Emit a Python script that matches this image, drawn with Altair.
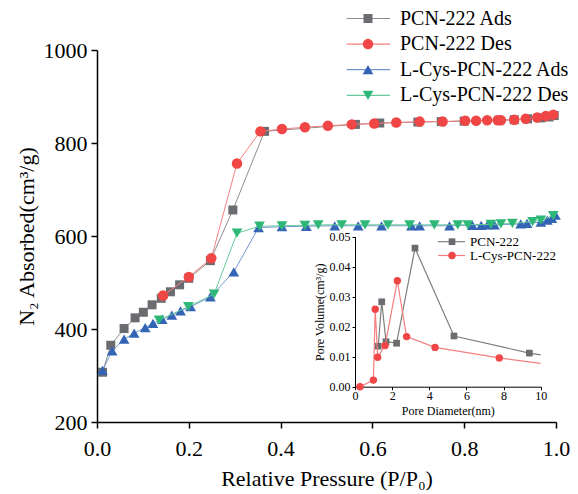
import altair as alt
import pandas as pd

# ---------------- data ----------------
pcn_ads_p = [0.012, 0.030, 0.059, 0.083, 0.101, 0.120, 0.140, 0.160, 0.180, 0.200, 0.247, 0.296,
             0.365, 0.563, 0.616, 0.699, 0.750, 0.800, 0.876, 0.909, 0.938, 0.967, 0.985, 0.996]
pcn_ads_v = [307, 365, 401, 424, 436, 452, 466, 480, 495, 509, 547, 656,
             825, 840, 843, 845, 846, 847, 849, 850, 852, 854, 856, 859]

pcn_des_p = [0.144, 0.200, 0.249, 0.305, 0.356, 0.403, 0.453, 0.503, 0.555, 0.604, 0.652, 0.703,
             0.753, 0.802, 0.826, 0.850, 0.873, 0.880, 0.909, 0.934, 0.959, 0.978, 0.994]
pcn_des_v = [472, 512, 552, 756, 825, 830, 834, 837, 840, 842, 844, 846,
             846, 848, 848, 849, 849, 849, 850, 852, 855, 858, 861]

lcys_ads_p = [0.012, 0.033, 0.059, 0.081, 0.105, 0.122, 0.142, 0.163, 0.182, 0.204, 0.247, 0.298,
              0.352, 0.403, 0.456, 0.518, 0.569, 0.620, 0.685, 0.703, 0.768, 0.818, 0.837, 0.851,
              0.866, 0.923, 0.937, 0.967, 0.981, 0.991, 0.999]
lcys_ads_v = [311, 353, 378, 391, 403, 412, 421, 430, 439, 448, 469, 523,
              618, 620, 621, 622, 622, 622, 622, 622, 622, 623, 623, 624,
              624, 626, 627, 630, 634, 638, 645]

lcys_des_p = [0.135, 0.199, 0.255, 0.305, 0.354, 0.403, 0.453, 0.482, 0.533, 0.584, 0.634, 0.681,
              0.735, 0.786, 0.808, 0.858, 0.880, 0.905, 0.949, 0.967, 0.994]
lcys_des_v = [419, 448, 475, 606, 621, 622, 623, 624, 624, 624, 624, 624,
              624, 624, 624, 625, 626, 627, 631, 634, 644]

# inset: pore size distribution
pcn_pd_d = [1.25, 1.44, 1.67, 2.24, 3.23, 5.33, 9.39, 10.0]
pcn_pd_v = [0.0135, 0.0283, 0.0150, 0.0145, 0.0462, 0.0169, 0.0112, 0.0106]

lcys_pd_d = [0.27, 0.99, 1.09, 1.22, 1.62, 2.28, 2.78, 4.31, 7.77, 10.0]
lcys_pd_v = [0.0, 0.0022, 0.0258, 0.0098, 0.0137, 0.0353, 0.0167, 0.0131, 0.0096, 0.0078]

main_names = ["PCN-222 Ads", "PCN-222 Des", "L-Cys-PCN-222 Ads", "L-Cys-PCN-222 Des"]
inset_names = ["PCN-222", "L-Cys-PCN-222"]

x_ticks = [0.0, 0.2, 0.4, 0.6, 0.8, 1.0]
y_ticks = [200, 400, 600, 800, 1000]
ix_ticks = [0, 2, 4, 6, 8, 10]
iy_ticks = [0.0, 0.01, 0.02, 0.03, 0.04, 0.05]

# ---------------- style ----------------
FONT = "Liberation Serif"
GRAY_M, GRAY_L = "#6b6c6f", "#8e8e8e"
RED_M, RED_L = "#f04646", "#f47f7f"
BLUE_M, BLUE_L = "#3464b6", "#7596d2"
GREEN_M, GREEN_L = "#2db877", "#66ca9c"

W, H = 459, 372
LEFT = 89  # plot left edge at page x = LEFT + 8

common_axis = dict(labelFont=FONT, titleFont=FONT, labelColor="black", titleColor="black",
                   domainColor="black", tickColor="black", titleFontWeight="normal",
                   labelFontWeight="normal", labelFlush=False, grid=False, labelOverlap=False)

xenc = alt.X("p:Q", scale=alt.Scale(domain=[0, 1], nice=False),
             axis=alt.Axis(values=x_ticks, format=".1f", title="Relative Pressure (P/P₀)",
                           labelFontSize=22, titleFontSize=22, tickSize=6, labelPadding=10,
                           titlePadding=9, domainWidth=1.5, tickWidth=1.5, **common_axis))
yenc = alt.Y("v:Q", scale=alt.Scale(domain=[200, 1000], nice=False),
             axis=alt.Axis(values=y_ticks, format="d", title="N₂ Absorbed(cm³/g)",
                           labelFontSize=22, titleFontSize=22, tickSize=6, labelPadding=4,
                           titlePadding=5, domainWidth=1.5, tickWidth=1.5, **common_axis))

ixenc = alt.X("d:Q", scale=alt.Scale(domain=[0, 10], range=[258, 443.7], nice=False),
              axis=alt.Axis(orient="bottom", offset=-35.3, values=ix_ticks, format="d",
                            title="Pore Diameter(nm)",
                            labelFontSize=12, titleFontSize=12, tickSize=3, labelPadding=1,
                            titlePadding=4, domainWidth=1, tickWidth=1, **common_axis))
iyenc = alt.Y("pv:Q", scale=alt.Scale(domain=[0, 0.05], range=[336.7, 186.7], nice=False),
              axis=alt.Axis(orient="left", offset=-258, values=iy_ticks, format=".2f",
                            title="Pore Volume(cm³/g)", labelFontSize=12, titleFontSize=12,
                            tickSize=3, labelPadding=2, titlePadding=3, domainWidth=1, tickWidth=1,
                            **common_axis))


def series(xs, ys, xf, yf, xe, ye, lc, mc, shape, size, lw, point_filter=None):
    df = pd.DataFrame({xf: xs, yf: ys})
    base = alt.Chart(df)
    line = base.mark_line(color=lc, strokeWidth=lw).encode(x=xe, y=ye)
    pts = base.mark_point(shape=shape, filled=True, color=mc, size=size, opacity=1,
                          strokeWidth=0).encode(x=xe, y=ye)
    if point_filter is not None:
        pts = pts.transform_filter(point_filter)
    return [line, pts]


main_layers = []
main_layers += series(pcn_ads_p, pcn_ads_v, "p", "v", xenc, yenc, GRAY_L, GRAY_M, "square", 81, 1)
main_layers += series(pcn_des_p, pcn_des_v, "p", "v", xenc, yenc, RED_L, RED_M, "circle", 110, 1)
main_layers += series(lcys_ads_p, lcys_ads_v, "p", "v", xenc, yenc, BLUE_L, BLUE_M, "triangle-up", 115, 1)
main_layers += series(lcys_des_p, lcys_des_v, "p", "v", xenc, yenc, GREEN_L, GREEN_M, "triangle-down", 115, 1)
main = alt.layer(*main_layers)

inset_layers = []
inset_layers += series(pcn_pd_d, pcn_pd_v, "d", "pv", ixenc, iyenc, "#7d7d7d", GRAY_M, "square", 45, 1.2,
                       point_filter=alt.datum.d < 10)
inset_layers += series(lcys_pd_d, lcys_pd_v, "d", "pv", ixenc, iyenc, RED_L, RED_M, "circle", 55, 1.2,
                       point_filter=alt.datum.d < 10)
inset = alt.layer(*inset_layers)

one = pd.DataFrame({"k": [0]})


def legend_entry(name, y, x0, x1, xs, xt, lc, mc, shape, size, fsize, lw):
    b = alt.Chart(one)
    r = b.mark_rule(color=lc, strokeWidth=lw).encode(x=alt.value(x0), x2=alt.value(x1), y=alt.value(y))
    p = b.mark_point(shape=shape, filled=True, color=mc, size=size, opacity=1, strokeWidth=0).encode(
        x=alt.value(xs), y=alt.value(y))
    t = b.mark_text(align="left", baseline="middle", font=FONT, fontSize=fsize, color="black").encode(
        x=alt.value(xt), y=alt.value(y), text=alt.value(name))
    return [r, p, t]


leg = []
main_styles = [(GRAY_L, GRAY_M, "square", 81), (RED_L, RED_M, "circle", 110),
               (BLUE_L, BLUE_M, "triangle-up", 115), (GREEN_L, GREEN_M, "triangle-down", 115)]
for i, (nm, st) in enumerate(zip(main_names, main_styles)):
    leg += legend_entry(nm, -31.5 + 25.6 * i, 249.7, 293, 271, 303, st[0], st[1], st[2], st[3], 20, 1.2)

inset_styles = [("#7d7d7d", GRAY_M, "square", 45), (RED_L, RED_M, "circle", 55)]
for i, (nm, st) in enumerate(zip(inset_names, inset_styles)):
    leg += legend_entry(nm, 191.7 + 13.8 * i, 341, 368, 355, 373, st[0], st[1], st[2], st[3], 13, 1.2)

chart = alt.layer(main, inset, *leg).resolve_scale(x="independent", y="independent").properties(
    width=W, height=H,
    autosize=alt.AutoSizeParams(type="none"),
    padding={"left": LEFT, "top": 42, "right": 14, "bottom": 72},
    background="white",
).configure_view(stroke=None)

chart.save("out.html", embed_options={"renderer": "svg", "actions": False})
